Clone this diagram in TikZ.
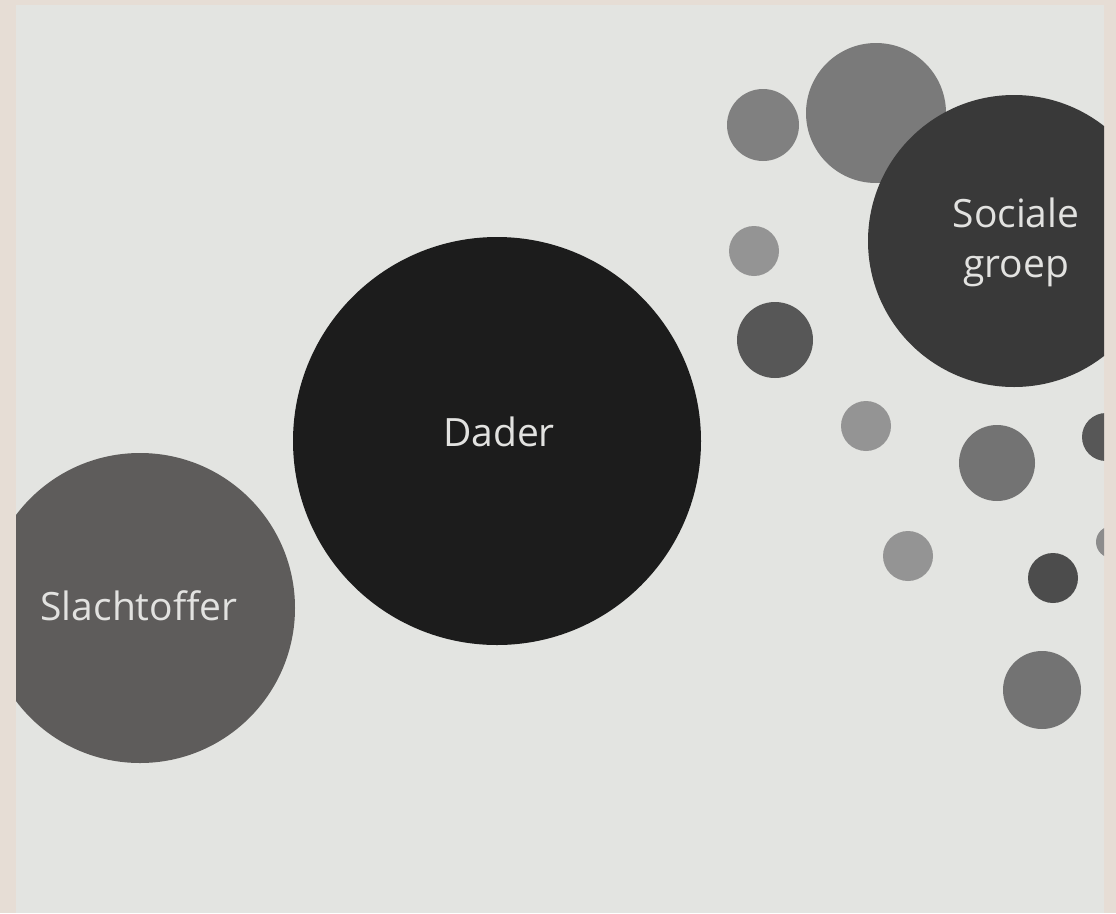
\documentclass[tikz,border=0pt]{standalone}
\usepackage{fontspec}
\setmainfont{Open Sans}
\definecolor{beige}{HTML}{E6DDD5}
\definecolor{page}{HTML}{E3E4E1}
\definecolor{cdader}{HTML}{1C1C1C}
\definecolor{cslacht}{HTML}{5E5C5B}
\definecolor{csoc}{HTML}{393939}
\definecolor{ctext}{HTML}{E2E2E0}
\tikzset{
  dot/.style={circle, inner sep=0pt, draw=none},
  bigtext/.style={text=ctext, font=\fontsize{39}{50}\selectfont, align=center}
}
\begin{document}
\begin{tikzpicture}[x=1pt,y=-1pt]
\useasboundingbox (0,0) rectangle (1116,913);
\fill[beige] (0,0) rectangle (1116,913);
\begin{scope}
\clip (16,5) rectangle (1104,913);
\fill[page] (16,5) rectangle (1104,913);
% small dots
\node[dot, fill=black!50, minimum size=72pt] (d1) at (763,125) {};
\node[dot, fill=black!52, minimum size=140pt] (d2) at (876,113) {};
\node[dot, fill=black!42, minimum size=50pt] (d3) at (754,251) {};
\node[dot, fill=black!66, minimum size=76pt] (d4) at (775,340) {};
\node[dot, fill=black!42, minimum size=50pt] (d5) at (866,426) {};
\node[dot, fill=black!55, minimum size=76pt] (d6) at (997,463) {};
\node[dot, fill=black!66, minimum size=48pt] (d7) at (1106,437) {};
\node[dot, fill=black!42, minimum size=50pt] (d8) at (908,556) {};
\node[dot, fill=black!45, minimum size=32pt] (d9) at (1112,542) {};
\node[dot, fill=black!70, minimum size=50pt] (d10) at (1053,578) {};
\node[dot, fill=black!55, minimum size=78pt] (d11) at (1042,690) {};
% main circles
\node[dot, fill=csoc, minimum size=292pt] (soc) at (1014,241) {};
\node[bigtext] (soct) at (1016,242) {Sociale\\groep};
\node[dot, fill=cslacht, minimum size=310pt] (slacht) at (140,608) {};
\node[bigtext] (slachtt) at (139,606) {Slachtoffer};
\node[dot, fill=cdader, minimum size=408pt] (dader) at (497,441) {};
\node[bigtext] (dadert) at (499,432) {Dader};
\end{scope}
\end{tikzpicture}
\end{document}
